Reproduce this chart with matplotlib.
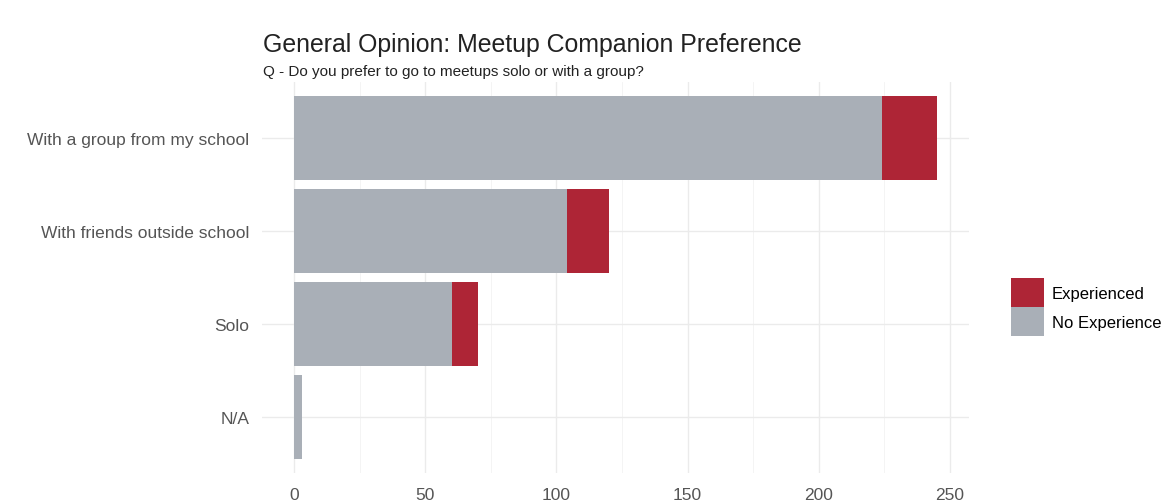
import matplotlib
matplotlib.use("Agg")
import matplotlib.pyplot as plt
import numpy as np

# survey answers, top to bottom
categories = ["With a group from my school", "With friends outside school", "Solo", "N/A"]
no_experience = [224, 104, 60, 3]
experienced = [21, 16, 10, 0]
xticks = [0, 50, 100, 150, 200, 250]

red = "#AE2536"
grey = "#A9AFB7"

plt.rcParams["font.family"] = ["Liberation Sans", "DejaVu Sans"]

fig = plt.figure(figsize=(11.76, 5.02), dpi=100)
ax = fig.add_axes([262/1176, 1 - 474/502, (969-262)/1176, (474-83)/502])

y = np.arange(len(categories))
ax.barh(y, no_experience, height=0.9, color=grey, label="No Experience", zorder=2)
ax.barh(y, experienced, left=no_experience, height=0.9, color=red, label="Experienced", zorder=2)

total = max(n + e for n, e in zip(no_experience, experienced))
ax.set_xlim(-0.05 * total, 1.05 * total)
ax.set_ylim(len(categories) - 0.4, -0.6)
ax.set_yticks(y)
ax.set_yticklabels(categories)
ax.set_xticks(xticks)
ax.set_xticks([25, 75, 125, 175, 225], minor=True)

ax.grid(True, which="major", color="#EBEBEB", linewidth=1.0, zorder=0)
ax.grid(True, which="minor", axis="x", color="#F3F3F3", linewidth=0.6, zorder=0)
ax.tick_params(which="both", length=0, labelsize=12.5, labelcolor="#555555")
ax.tick_params(axis="y", pad=9)
ax.tick_params(axis="x", pad=10)
for s in ax.spines.values():
    s.set_visible(False)

fig.text(263/1176, 1 - 45/502, "General Opinion: Meetup Companion Preference",
         fontsize=17.9, color="#222222", va="center")
fig.text(263/1176, 1 - 72/502, "Q - Do you prefer to go to meetups solo or with a group?",
         fontsize=11, color="#222222", va="center")

h, l = ax.get_legend_handles_labels()
fig.legend(h[::-1], l[::-1], loc="center left", bbox_to_anchor=(996/1176, 1 - 308/502),
           frameon=False, fontsize=12, handlelength=1.95, handleheight=2.3,
           labelspacing=0.0, handletextpad=0.5)

plt.savefig("out.png", dpi=100)
